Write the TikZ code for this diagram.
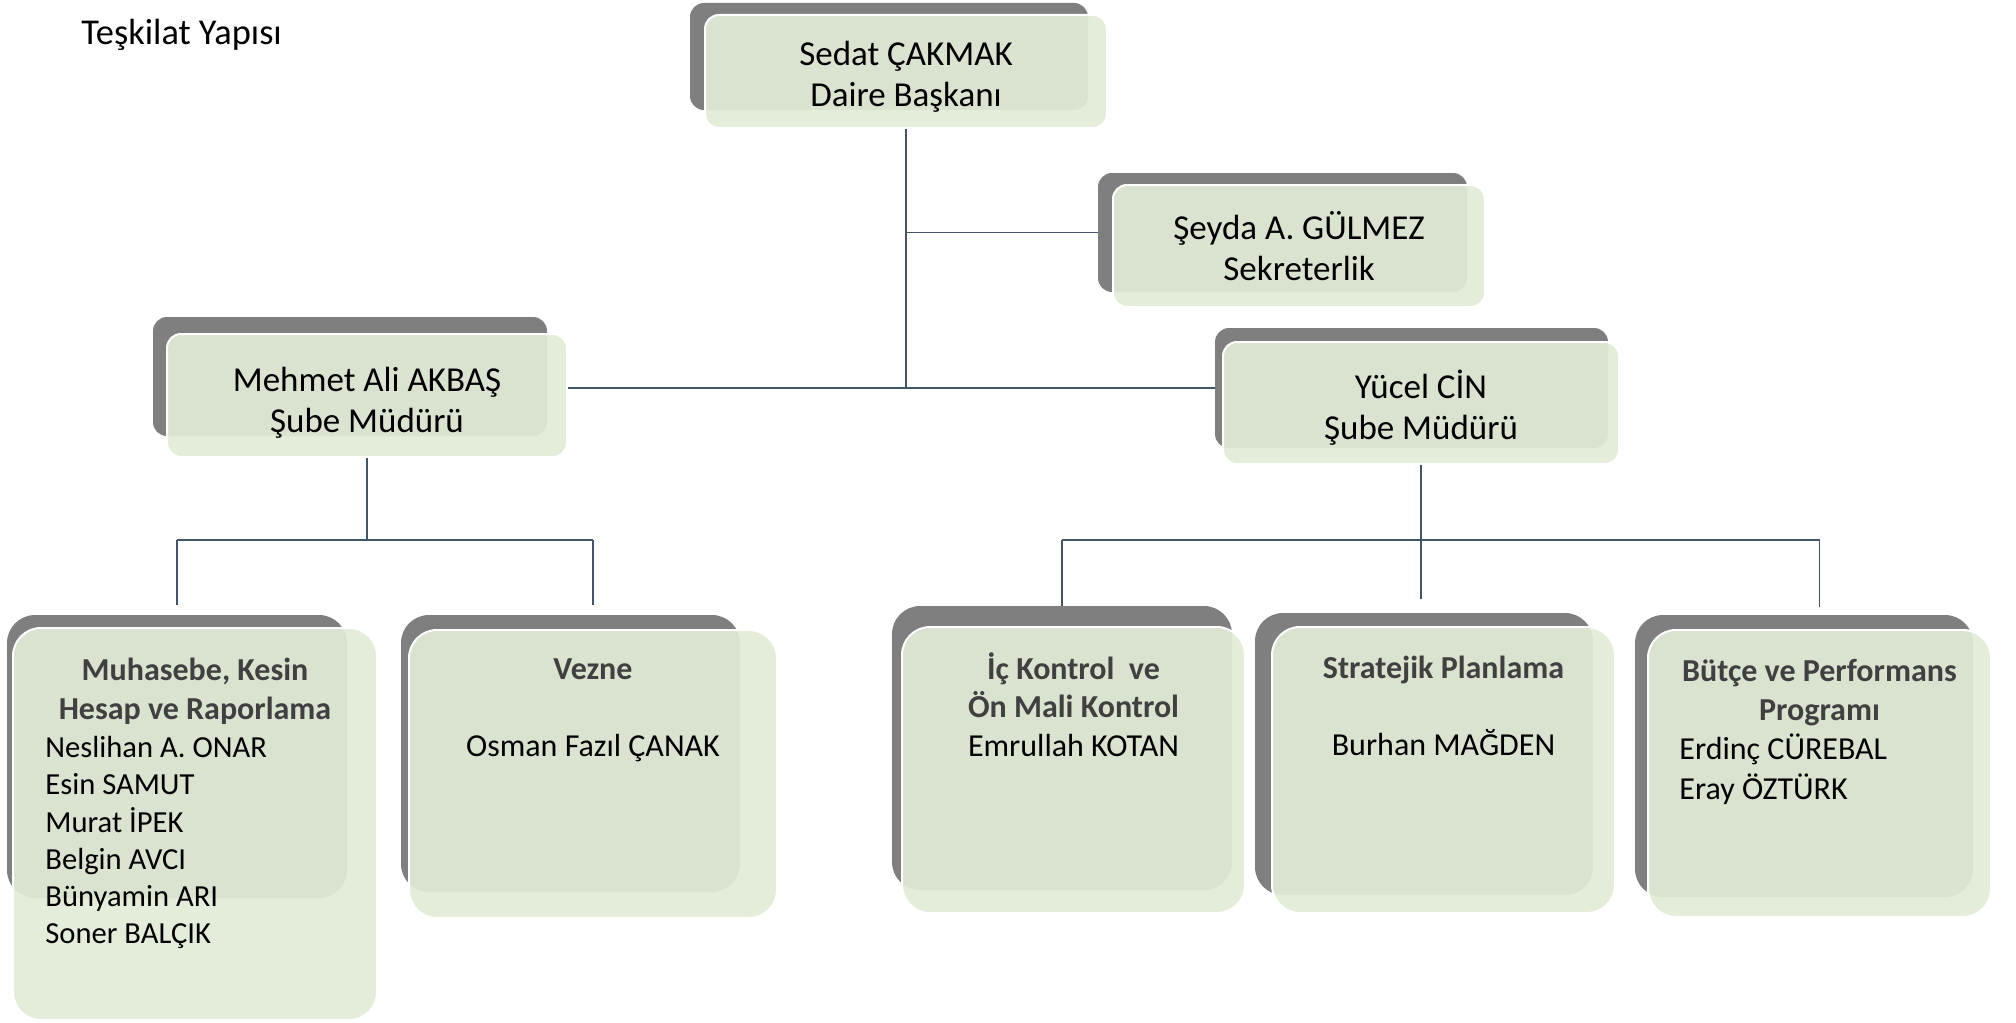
\documentclass[tikz,border=0pt]{standalone}
\usepackage{fontspec}
\setmainfont{Carlito}
\usetikzlibrary{fit}
\usetikzlibrary{positioning}
\definecolor{boxgray}{HTML}{7F7F7F}
\definecolor{boxgreen}{HTML}{E1ECD7}
\definecolor{linecol}{HTML}{44546A}
\definecolor{headgray}{HTML}{404040}
\newcommand{\bhead}[1]{\textcolor{headgray}{\bfseries #1}}
\tikzset{back/.style = {fill = boxgray, inner sep = 0, rounded corners = 7pt},
  front/.style = {fill = boxgreen, fill opacity = 0.92, draw = white,
    line width = 1pt, inner sep = 0, rounded corners = 7pt},
  big/.style = {rounded corners = 14pt},
  toptext/.style = {inner sep = 0, align = center, font = \fontsize{17.5}{20.5}\selectfont},
  head/.style = {inner sep = 0, align = center, font = \fontsize{16}{19.25}\selectfont},
  names/.style = {inner sep = 0, align = left, anchor = north west,
    font = \fontsize{16}{19.5}\selectfont},
  conn/.style = {draw = linecol, line width = 0.8pt}}

\begin{document}
\begin{tikzpicture}[x = 0.5pt, y = -0.5pt]
  \useasboundingbox (0, 0) rectangle (2016, 1022);
  \node [anchor = west, inner sep = 0, font = \fontsize{18.2}{20}\selectfont] (title) at (81, 35) {Teşkilat Yapısı};

  % top levels
  \node [back, fit = {(690, 3) (1088, 110)}] (sedat-b) {};
  \node [front, fit = {(705, 15) (1107, 128)}] (sedat) {};
  \node [toptext] (sedat-t) at ([yshift = -2.7pt] sedat.center) {Sedat ÇAKMAK\\Daire Başkanı};
  \node [back, fit = {(1098, 173) (1467, 292)}] (seyda-b) {};
  \node [front, fit = {(1113, 185) (1485, 307)}] (seyda) {};
  \node [toptext] (seyda-t) at ([yshift = 0.2pt] seyda.center) {Şeyda A. GÜLMEZ\\Sekreterlik};
  \node [back, fit = {(153, 317) (547, 436)}] (mehmet-b) {};
  \node [front, fit = {(167, 334) (567, 457)}] (mehmet) {};
  \node [toptext] (mehmet-t) at ([yshift = -3.7pt] mehmet.center) {Mehmet Ali AKBAŞ\\Şube Müdürü};
  \node [back, fit = {(1215, 328) (1608, 448)}] (yucel-b) {};
  \node [front, fit = {(1223, 342) (1619, 464)}] (yucel) {};
  \node [toptext] (yucel-t) at ([yshift = -2.2pt] yucel.center) {Yücel CİN\\Şube Müdürü};

  % units
  \node [back, big, fit = {(7, 615) (347, 898)}] (muh-b) {};
  \node [front, big, fit = {(13, 628) (377, 1020)}] (muh) {};
  \node [back, big, fit = {(401, 615) (740, 892)}] (vezne-b) {};
  \node [front, big, fit = {(409, 630) (777, 918)}] (vezne) {};
  \node [back, big, fit = {(892, 606) (1232, 890)}] (ic-b) {};
  \node [front, big, fit = {(902, 627) (1245, 913)}] (ic) {};
  \node [back, big, fit = {(1255, 613) (1593, 895)}] (strat-b) {};
  \node [front, big, fit = {(1272, 627) (1615, 913)}] (strat) {};
  \node [back, big, fit = {(1635, 615) (1973, 897)}] (butce-b) {};
  \node [front, big, fit = {(1648, 630) (1991, 917)}] (butce) {};

  \node [head, below = 15.5pt of muh.north] (muh-h) {\bhead{Muhasebe, Kesin}\\\bhead{Hesap ve Raporlama}};
  \node [names, font = \fontsize{15.3}{18.6}\selectfont] (muh-n) at (45, 736) {Neslihan A. ONAR\\Esin SAMUT\\Murat İPEK\\Belgin AVCI\\Bünyamin ARI\\Soner BALÇIK};
  \node [head, below = 14.5pt of vezne.north] (vezne-h) {\bhead{Vezne}\\[19.25pt]Osman Fazıl ÇANAK};
  \node [head, below = 13pt of ic.north] (ic-h) {\bhead{İç Kontrol~ ve}\\\bhead{Ön Mali Kontrol}\\Emrullah KOTAN};
  \node [head, below = 15pt of strat.north] (strat-h) {\bhead{Stratejik Planlama}\\[19.25pt]Burhan MAĞDEN};
  \node [head, below = 15pt of butce.north] (butce-h) {\bhead{Bütçe ve Performans}\\\bhead{Programı}};
  \node [names] (butce-n) at (1679, 733) {Erdinç CÜREBAL\\[0.5pt]Eray ÖZTÜRK};

  % lines
  \coordinate (lbar) at (365, 540);
  \coordinate (rbar) at (1419, 540);
  \draw [conn] (sedat.south) -- (sedat.south |- yucel-b.west);
  \draw [conn] (sedat.south |- seyda-b.west) -- (seyda-b.west);
  \draw [conn] (mehmet.east |- yucel-b.west) -- (yucel-b.west);
  \draw [conn] (mehmet.south) -- (mehmet.south |- lbar);
  \draw [conn] (muh-b.north |- lbar) -- (vezne.north |- lbar);
  \draw [conn, shorten >= 5pt] (muh-b.north |- lbar) -- (muh-b.north);
  \draw [conn, shorten >= 5pt] (vezne.north |- lbar) -- (vezne.north |- vezne-b.north);
  \draw [conn, shorten >= 7pt] (yucel.south) -- (yucel.south |- strat-b.north);
  \draw [conn] (ic-b.north |- rbar) -- (butce.north |- rbar);
  \draw [conn] (ic-b.north |- rbar) -- (ic-b.north);
  \draw [conn, shorten >= 4pt] (butce.north |- rbar) -- (butce.north |- butce-b.north);
\end{tikzpicture}
\end{document}
